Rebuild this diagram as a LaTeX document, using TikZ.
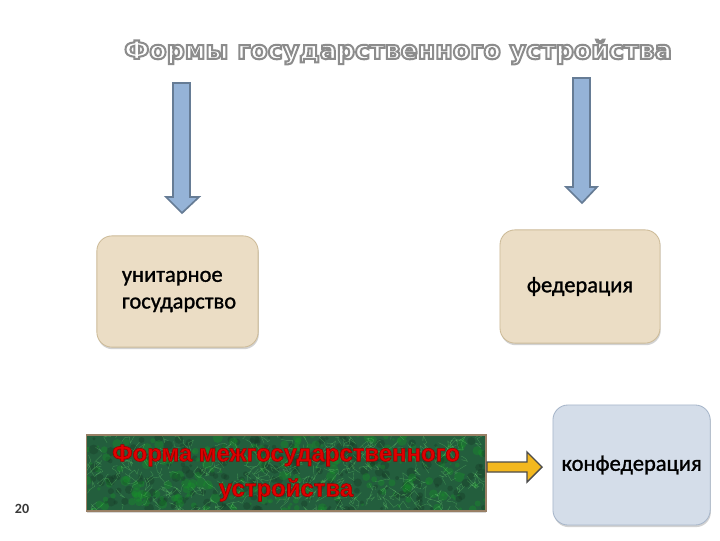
\documentclass[tikz,border=0pt]{standalone}
\usepackage{fontspec}
\setmainfont{Carlito}
\newfontface\boxface{Carlito}[FakeBold=1.2]
\newfontface\titleface{DejaVu Sans Bold}[FakeBold=8]
\newfontface\redface{Liberation Sans Bold}[FakeBold=2.5]
\usetikzlibrary{positioning,calc,shadows}

\definecolor{tanfill}{HTML}{EBDDC5}
\definecolor{tanline}{HTML}{CDBB98}
\definecolor{bluefill}{HTML}{D4DDE9}
\definecolor{blueline}{HTML}{A7B6CA}
\definecolor{arrowfill}{HTML}{95B3D7}
\definecolor{arrowline}{HTML}{667C95}
\definecolor{yellowfill}{HTML}{F3B81F}
\definecolor{marble}{HTML}{235E3D}
\definecolor{redtext}{HTML}{E00000}

\begin{document}
\begin{tikzpicture}[x=0.025cm,y=-0.025cm,
	formbox/.style={draw=tanline,fill=tanfill,line width=0.6pt,rounded corners=0.375cm,
		font=\boxface\fontsize{16}{19}\selectfont,
		drop shadow={opacity=0.35,shadow xshift=0.5pt,shadow yshift=-1.5pt}},
	blockarrow/.style={draw=arrowline,fill=arrowfill,line width=1.2pt,line join=miter},
	vein/.style={green!50!white,opacity=0.3,line width=0.25pt}]
		\useasboundingbox (0,0) rectangle (720,540);
		\fill[white] (0,0) rectangle (720,540);
		\pgfmathsetseed{7}
		
		\node[text=white,font=\titleface\fontsize{18}{22}\selectfont] (title) at (398,52) {\special{pdf:literal 0.55 0.55 0.55 RG}Формы государственного устройства};
		
		\node[formbox,minimum width=4.03cm,minimum height=2.78cm,text width=2.78cm,inner xsep=0.625cm,align=left] (unit) at (177.5,291.5) {унитарное\\государство};
		\node[formbox,minimum width=4cm,minimum height=2.83cm] (fed) at (580,286.5) {федерация};
		
		\node[draw=gray!60!brown,line width=1.2pt,fill=marble,minimum width=9.98cm,minimum height=1.9cm,align=center,
			text=redtext,font=\redface\fontsize{17}{25}\selectfont,
			drop shadow={opacity=0.3,shadow xshift=0.5pt,shadow yshift=-1.5pt},
			path picture={
				\foreach \i in {1,...,450}{
					\pgfmathsetmacro{\xa}{rnd*400}
					\pgfmathsetmacro{\ya}{rnd*76}
					\pgfmathsetmacro{\ra}{0.03+rnd*0.1}
					\pgfmathparse{rnd>0.5 ? "green!35!marble" : "black!40!marble"}
					\fill[\pgfmathresult,opacity=0.35] ($(path picture bounding box.north west)+(\xa,\ya)$) circle (\ra cm);
				}
				\foreach \i in {1,...,260}{
					\pgfmathsetmacro{\xa}{rnd*400}
					\pgfmathsetmacro{\ya}{rnd*76}
					\draw[vein] ($(path picture bounding box.north west)+(\xa,\ya)$) -- ++({rand*7},{rand*7}) -- ++({rand*7},{rand*7}) -- ++({rand*7},{rand*7}) -- ++({rand*7},{rand*7});
				}
			}] (inter) at (286,473) {\special{pdf:literal 0.6 0 0 RG}Форма межгосударственного\\\special{pdf:literal 0.6 0 0 RG}устройства};
		
		\node[formbox,draw=blueline,fill=bluefill,minimum width=3.93cm,minimum height=3cm,right=1.65cm of inter,yshift=0.2cm] (conf) {конфедерация};
		
		\node[text=gray!45!black,font=\bfseries\fontsize{10}{12}\selectfont] (num) at (22,509) {20};
		
		% block arrows
		\draw[blockarrow] (173,83) -- (190,83) -- (190,197) -- (199,197) -- (182,213) -- (166,197) -- (173,197) -- cycle;
		\draw[blockarrow] (573,78) -- (590,78) -- (590,187) -- (597,187) -- (582,203) -- (566,187) -- (573,187) -- cycle;
		\draw[draw=gray!60!black,fill=yellowfill,line width=1pt] (487,462) -- (527,462) -- (527,452) -- (542,467) -- (527,482) -- (527,472) -- (487,472) -- cycle;
	\end{tikzpicture}
\end{document}
